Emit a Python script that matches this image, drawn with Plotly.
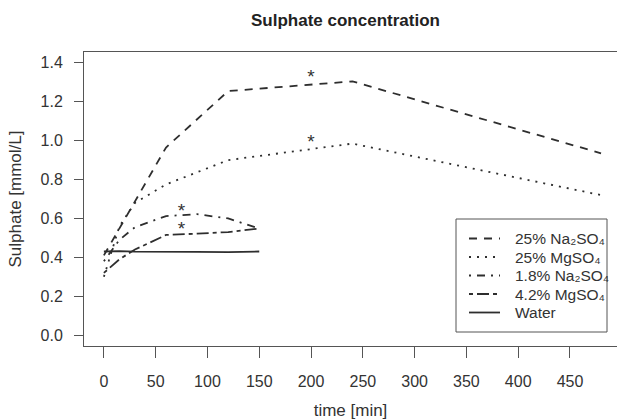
import plotly.graph_objects as go

# ---- data ----
t_long = [0, 15, 30, 60, 120, 240, 480]
na25 = [0.41, 0.55, 0.69, 0.965, 1.255, 1.305, 0.935]
mg25 = [0.30, 0.56, 0.68, 0.775, 0.90, 0.985, 0.72]

t_short = [0, 15, 30, 60, 90, 120, 150]
na18 = [0.38, 0.49, 0.555, 0.612, 0.622, 0.600, 0.548]
mg42 = [0.32, 0.39, 0.44, 0.515, 0.522, 0.530, 0.548]
water = [0.43, 0.432, 0.429, 0.427, 0.428, 0.427, 0.430]

names = ["25% Na₂SO₄", "25% MgSO₄", "1.8% Na₂SO₄", "4.2% MgSO₄", "Water"]
dashes = ["8px,7px", "2px,6px", "2px,6px,8px,6px", "4px,4px,12px,4px", "solid"]

star_x = [200, 200, 75, 75]
star_y = [1.32, 0.985, 0.63, 0.54]

x_ticks = [0, 50, 100, 150, 200, 250, 300, 350, 400, 450]
y_ticks = [0.0, 0.2, 0.4, 0.6, 0.8, 1.0, 1.2, 1.4]

LC = "#2e2e2e"
TXT = "#333333"
FONT = "Liberation Sans, Arial, sans-serif"

L, T, B, W, H = 84, 52, 74, 617, 420
PW, PH = W - L, H - T - B


def px(x):
    return (x - L) / PW


def py(y):
    return (H - B - y) / PH


fig = go.Figure()
series = [(t_long, na25), (t_long, mg25), (t_short, na18), (t_short, mg42), (t_short, water)]
for (tx, ty), nm, dash in zip(series, names, dashes):
    fig.add_trace(go.Scatter(x=tx, y=ty, mode="lines", name=nm, showlegend=False,
                             line=dict(color=LC, width=1.8, dash=dash)))

fig.add_trace(go.Scatter(x=star_x, y=star_y, mode="text", text=["*"] * 4,
                         textfont=dict(size=19, color=TXT, family=FONT),
                         showlegend=False, hoverinfo="skip"))

# title
fig.add_annotation(text="<b>Sulphate concentration</b>", xref="paper", yref="paper",
                   x=px(345), y=py(20), xanchor="center", yanchor="middle",
                   showarrow=False, font=dict(size=17, color="#222222"))

# legend (drawn as a boxed key)
fig.add_shape(type="rect", xref="paper", yref="paper", x0=px(456), x1=px(607),
              y0=py(332), y1=py(219), line=dict(color="#555555", width=1),
              fillcolor="white", layer="above")
row_y = [238.5, 257, 275.5, 294, 312.5]
for nm, dash, ry in zip(names, dashes, row_y):
    fig.add_shape(type="line", xref="paper", yref="paper", x0=px(469), x1=px(500),
                  y0=py(ry), y1=py(ry), line=dict(color=LC, width=1.8, dash=dash),
                  layer="above")
    fig.add_annotation(text=nm, xref="paper", yref="paper", x=px(513), y=py(ry),
                       xanchor="left", yanchor="middle", showarrow=False,
                       font=dict(size=15.5, color=TXT))

fig.update_layout(
    width=W, height=H,
    margin=dict(l=L, r=0, t=T, b=B, autoexpand=False),
    paper_bgcolor="white", plot_bgcolor="white",
    font=dict(family=FONT, color=TXT, size=16),
    showlegend=False,
)
fig.update_xaxes(range=[-19.2, 495.4], tickvals=x_ticks, ticks="outside", ticklen=11,
                 tickcolor="#555555", showline=True, linecolor="#555555", linewidth=1,
                 mirror=True, showgrid=False, zeroline=False, automargin=False,
                 ticklabelstandoff=10,
                 title=dict(text="time [min]", font=dict(size=17), standoff=16))
fig.update_yaxes(range=[-0.056, 1.456], tickvals=y_ticks, tickformat=".1f",
                 ticks="outside", ticklen=9, tickcolor="#555555", showline=True,
                 linecolor="#555555", linewidth=1, showgrid=False, zeroline=False,
                 automargin=False, ticklabelstandoff=8,
                 title=dict(text="Sulphate [mmol/L]", font=dict(size=17), standoff=14))

fig.write_html("out.html", config={"displayModeBar": False},
               post_script="document.body.style.margin='0px';")
